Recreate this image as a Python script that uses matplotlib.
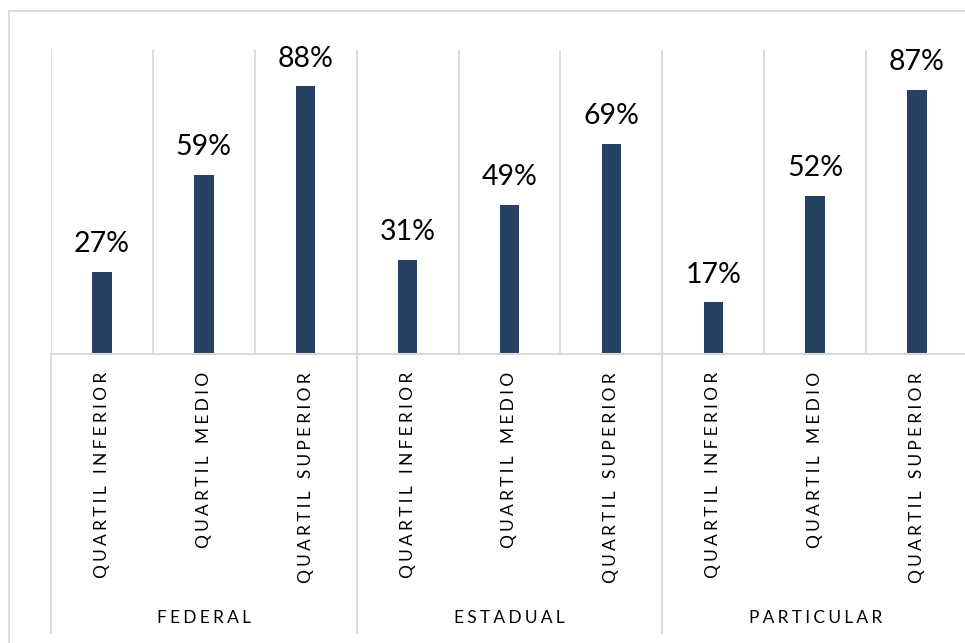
import matplotlib.pyplot as plt
from matplotlib.patches import Rectangle

plt.rcParams['font.family'] = ['Lato', 'DejaVu Sans']

# data
groups = ['FEDERAL', 'ESTADUAL', 'PARTICULAR']
quartis = ['QUARTIL INFERIOR', 'QUARTIL MEDIO', 'QUARTIL SUPERIOR']
federal = [27, 59, 88]
estadual = [31, 49, 69]
particular = [17, 52, 87]

BAR = '#264163'
GRID = '#d9d9d9'


def spaced(txt, gap='\u2009\u200a'):
    # Excel-like letter spacing for the axis labels
    return (' ' + gap + ' ').join(gap.join(word) for word in txt.split(' '))


fig = plt.figure(figsize=(9.65, 6.43), dpi=100)
ax = fig.add_axes([51 / 965, (643 - 354) / 643, 917 / 965, 304 / 643])

values = federal + estadual + particular
xs = list(range(len(values)))

ax.set_xlim(-0.5, len(values) - 0.5)
ax.set_ylim(0, 100)

# vertical separators between categories
for i in range(len(values) + 1):
    ax.axvline(i - 0.5, color=GRID, lw=1.3, zorder=0)

ax.bar(xs, values, width=0.19, color=BAR, zorder=2)

for x, v in zip(xs, values):
    ax.annotate(f'{v}%', (x, v), xytext=(0, 20), textcoords='offset points',
                ha='center', va='center', fontsize=20.5, color='black')

for s in ['left', 'right', 'top']:
    ax.spines[s].set_visible(False)
ax.spines['bottom'].set_color(GRID)
ax.spines['bottom'].set_linewidth(1.5)
ax.set_xticks([])
ax.set_yticks([])

xt = ax.get_xaxis_transform()
for x in xs:
    ax.text(x, -0.059, spaced(quartis[x % 3]), transform=xt, rotation=90,
            ha='center', va='top', fontsize=12.5, color='black')

# group level of the category axis
for g, name in enumerate(groups):
    left = g * 3 - 0.5
    ax.plot([left, left], [0, -0.918], transform=xt, color=GRID, lw=1.3,
            clip_on=False)
    ax.text(g * 3 + 1, -0.868, spaced(name), transform=xt,
            ha='center', va='center', fontsize=12.5, color='black')
ax.plot([8.5, 8.5], [0, -0.918], transform=xt, color=GRID, lw=1.3,
        clip_on=False)

# chart border
fig.patches.append(Rectangle((8.5 / 965, -0.1), 1.2, 1.1 - 11 / 643,
                             transform=fig.transFigure, fill=False,
                             edgecolor=GRID, lw=1.3))

fig.savefig('out.png', dpi=100)
